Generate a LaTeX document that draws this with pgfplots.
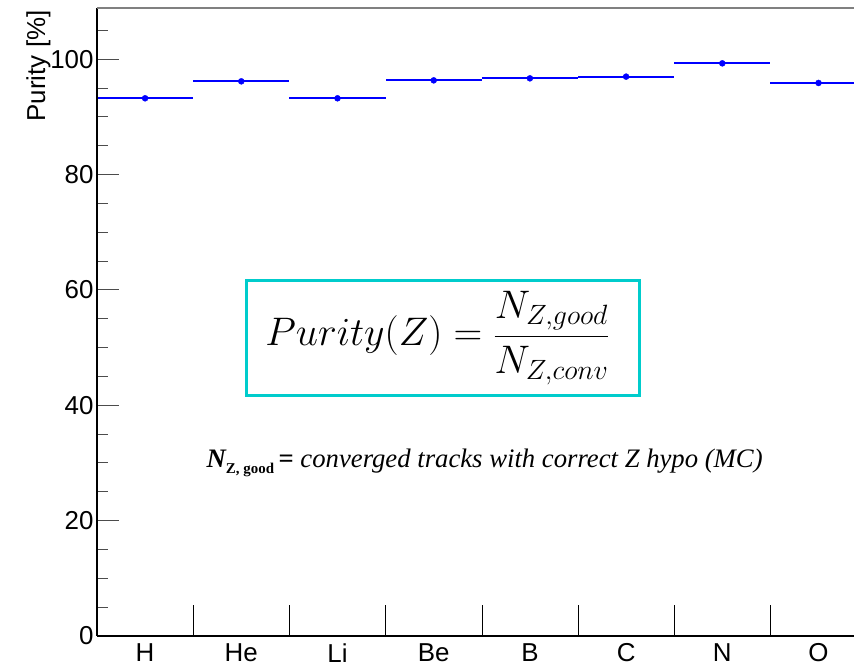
\RequirePackage{fix-cm}
\documentclass[border=0pt]{standalone}
\usepackage{pgfplots}
\pgfplotsset{compat=1.18}
\usepackage{fontspec}
\setmainfont{Liberation Sans}
\newfontfamily\timesfont{Liberation Serif}
\definecolor{rootblue}{RGB}{0,0,255}
\definecolor{boxcyan}{RGB}{0,204,204}
\begin{document}
\begin{tikzpicture}
\begin{axis}[
  scale only axis,
  width=757bp, height=628bp,
  xmin=0, xmax=7.869, ymin=0, ymax=108.9,
  axis line style={draw=none},
  xtick={0.5,1.5,...,7.5},
  xticklabels={H,He,Li,Be,B,C,N,O},
  ytick={0,20,...,100},
  minor ytick={5,10,15,25,30,35,45,50,55,65,70,75,85,90,95,105},
  xtick pos=bottom, ytick pos=left,
  tick align=inside,
  major tick length=22bp,
  minor tick length=11bp,
  x tick style={draw=none},
  y tick style={draw=gray!60!black, line width=1bp},
  tick label style={font=\fontsize{26}{29}\selectfont},
  /pgf/number format/assume math mode=true,
  xticklabel style={yshift=-4bp},
  yticklabel style={xshift=0bp},
  every axis y label/.style={at={(rel axis cs:0,1)}, xshift=-43bp, yshift=1bp, rotate=90, anchor=south east, font=\fontsize{26}{29}\selectfont},
  ylabel={Purity [\%]},
  clip=false,
]
\addplot[rootblue, mark=*, mark size=3bp, only marks,
  error bars/.cd, x dir=both, x explicit, error mark=none,
  error bar style={rootblue, line width=2bp}]
  table[x=x, y=y, x error=ex] {
x   y      ex
0.5 93.24  0.5
1.5 96.18  0.5
2.5 93.24  0.5
3.5 96.35  0.5
4.5 96.70  0.5
5.5 97.00  0.5
6.5 99.30  0.5
7.5 95.90  0.5
};
\pgfplotsinvokeforeach{1,...,7}{
  \draw[black, line width=0.6bp] (axis cs:#1,0) -- ++(0,31bp);
}
\draw[black, line width=1.2bp] (rel axis cs:0,0) -- (rel axis cs:0,1);
\draw[black, line width=2bp] (rel axis cs:0,0) -- (rel axis cs:1,0);
\draw[gray, line width=2bp] (rel axis cs:0,1) -- (rel axis cs:1,1);
\node[draw=boxcyan, line width=3bp, fill=white, minimum width=393bp, minimum height=115bp, inner sep=0pt]
  at (axis cs:3.597,51.67) {};
\node[inner sep=0pt, font=\fontsize{40}{46}\selectfont]
  at (axis cs:3.54,51.67) {$\displaystyle Purity(Z) = \frac{N_{Z,good}}{N_{Z,conv}}$};
\node[anchor=base, inner sep=0pt] at (axis cs:4.03,29.3)
  {\timesfont\fontsize{26.8}{30}\selectfont{\bfseries\itshape N}\raisebox{-0.5ex}{\fontsize{15}{15}\selectfont\bfseries Z, good}\,\textbf{=} \itshape converged tracks with correct Z hypo (MC)};
\end{axis}
\pgfresetboundingbox
\path[use as bounding box] ([shift={(-97bp,-30bp)}]current axis.south west) rectangle ([shift={(0bp,8bp)}]current axis.north east);
\end{tikzpicture}
\end{document}
